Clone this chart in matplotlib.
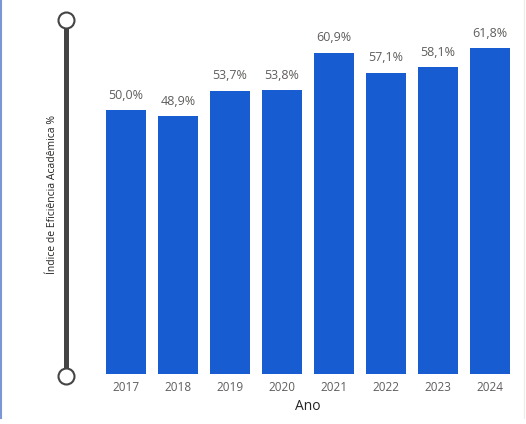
import numpy as np
import matplotlib
matplotlib.use('Agg')
import matplotlib.pyplot as plt
from matplotlib.lines import Line2D

plt.rcParams['font.family'] = ['Open Sans', 'DejaVu Sans']

anos = ['2017', '2018', '2019', '2020', '2021', '2022', '2023', '2024']
eficiencia = [50.0, 48.9, 53.7, 53.8, 60.9, 57.1, 58.1, 61.8]
rotulos = ['50,0%', '48,9%', '53,7%', '53,8%', '60,9%', '57,1%', '58,1%', '61,8%']

W, H = 526, 424
fig = plt.figure(figsize=(W / 100, H / 100), dpi=100)
fig.patch.set_facecolor('white')

# plot area in pixels: x 100..516, y 31..374
ax = fig.add_axes([100 / W, (H - 374) / H, 416 / W, 343 / H])
x = np.arange(len(anos))
bars = ax.bar(x, eficiencia, width=0.77, color='#175CD0', zorder=3)
ax.bar_label(bars, labels=rotulos, padding=6, fontsize=9, color='#605E5C')

ax.set_xlim(-0.5, len(anos) - 0.5)
ax.set_ylim(0, 65)
ax.set_xticks(x, anos)
ax.tick_params(axis='x', length=0, pad=5, labelsize=8.5, labelcolor='#605E5C')
ax.set_yticks([])
for s in ax.spines.values():
    s.set_visible(False)

fig.text(308 / W, 1 - 407 / H, 'Ano', ha='center', va='center',
         fontsize=10, color='#252423')
fig.text(53 / W, 1 - 194 / H, 'Índice de Eficiência Acadêmica %', rotation=90,
         ha='center', va='center', fontsize=7.5, color='#252423')

# range slider on the left
sx = 65.5 / W
fig.add_artist(Line2D([sx, sx], [1 - 20 / H, 1 - 376 / H], color='#444444',
                      lw=3.6, transform=fig.transFigure, solid_capstyle='butt'))
for cy in [20, 376]:
    fig.add_artist(Line2D([sx], [1 - cy / H], marker='o', markersize=11.5,
                          markerfacecolor='white', markeredgecolor='#444444',
                          markeredgewidth=1.5, transform=fig.transFigure))

# frame edges of the visual
fig.add_artist(Line2D([1 / W, 1 / W], [1, 1 - 418 / H], color='#7D96D6', lw=1.5,
                      transform=fig.transFigure))
fig.add_artist(Line2D([523.5 / W, 523.5 / W], [1, 1 - 418 / H], color='#EDEBE9', lw=0.8,
                      transform=fig.transFigure))

fig.savefig('out.png', dpi=100, facecolor='white')
